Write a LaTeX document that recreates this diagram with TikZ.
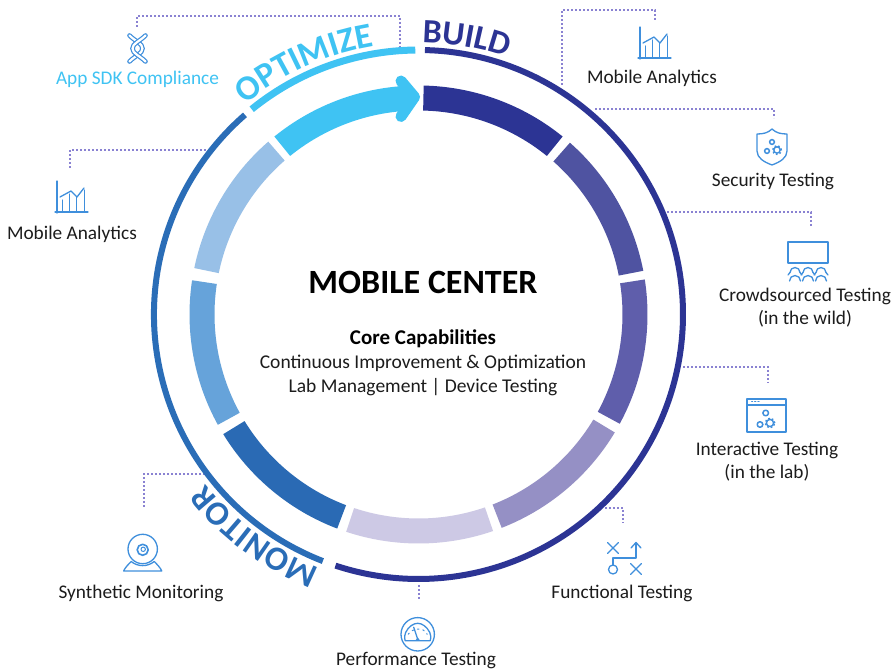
\documentclass[tikz,border=0pt]{standalone}
\usepackage{fontspec}
\setmainfont{Carlito}
\usetikzlibrary{decorations.text}
\definecolor{navyc}{HTML}{2C3494}
\definecolor{blueo}{HTML}{2A6DB7}
\definecolor{cyanc}{HTML}{3FC3F3}
\definecolor{segb}{HTML}{4F53A1}
\definecolor{segc}{HTML}{5F5EAB}
\definecolor{segd}{HTML}{9590C5}
\definecolor{sege}{HTML}{CDC9E5}
\definecolor{segf}{HTML}{2A6AB4}
\definecolor{segg}{HTML}{66A3DA}
\definecolor{segh}{HTML}{98C0E7}
\definecolor{iconc}{HTML}{3F8FDC}
\definecolor{dotc}{HTML}{8A82D2}
\definecolor{inkc}{HTML}{1C1C1C}
\tikzset{
  lab/.style={font=\fontsize{19.3}{23}\selectfont,text=inkc,align=center,inner sep=0pt},
  leader/.style={draw=dotc,line width=1.2pt,dash pattern=on 2pt off 2pt},
  ico/.style={draw=iconc,line width=1.3pt,line cap=round,line join=round},
  ringarc/.style={line width=6pt},
}
\newcommand{\seg}[3]{\fill[#1] (#2:229) arc[start angle=#2,end angle=#3,radius=229] -- (#3:204) arc[start angle=#3,end angle=#2,radius=204] -- cycle;}
\newcommand{\curvetxt}[4]{\path[decorate,decoration={text along path,text={|\bfseries\fontsize{#4}{#4}\selectfont\color{#1}|#2}}] (#3:272) arc[start angle=#3,end angle=#3-60,radius=272];}
\newcommand{\chartico}[2]{\begin{scope}[shift={(#1,#2)}]
  \draw[ico] (0,-1) -- (0,31);
  \draw[ico] (-2,0) -- (31,0);
  \draw[ico,line width=1pt] (5,12) -- (5,0) (12,18) -- (12,0) (19,15) -- (19,0) (27,22) -- (27,0);
  \draw[ico] (3,15) -- (14,21) -- (20,15) -- (27,24);
\end{scope}}
\newcommand{\gearico}[3]{\draw[ico,line width=1.5pt] (#1,#2) circle[radius=#3];}
\newcommand{\bigear}[3]{\draw[ico,line width=1.4pt] (#1,#2) circle[radius=#3];
  \draw[iconc,line width=1.4pt,line cap=butt,dash pattern=on 1.7pt off 2.1pt] (#1,#2) circle[radius=#3+1.2];}
\begin{document}
\begin{tikzpicture}[x=1pt,y=1pt]
\useasboundingbox (0,0) rectangle (892,669);
\fill[white] (0,0) rectangle (892,669);
% --- leaders
\coordinate (a1) at (137,642); \coordinate (a2) at (137,653); \coordinate (a3) at (400,653); \coordinate (a4) at (400,622);
\draw[leader] (a1) -- (a2) -- (a3) -- (a4);
\coordinate (b1) at (70,501); \coordinate (b2) at (70,519); \coordinate (b3) at (213,519);
\draw[leader] (b1) -- (b2) -- (b3);
\coordinate (c1) at (562,584); \coordinate (c2) at (562,659); \coordinate (c3) at (655,659); \coordinate (c4) at (655,648);
\draw[leader] (c1) -- (c2) -- (c3) -- (c4);
\coordinate (d1) at (595,560); \coordinate (d2) at (774,560); \coordinate (d3) at (774,551);
\draw[leader] (d1) -- (d2) -- (d3);
\coordinate (e1) at (667,457); \coordinate (e2) at (811,457); \coordinate (e3) at (811,443);
\draw[leader] (e1) -- (e2) -- (e3);
\coordinate (f1) at (683,302); \coordinate (f2) at (768,302); \coordinate (f3) at (768,286);
\draw[leader] (f1) -- (f2) -- (f3);
\coordinate (g1) at (605,161); \coordinate (g2) at (623,161); \coordinate (g3) at (623,146);
\draw[leader] (g1) -- (g2) -- (g3);
\coordinate (h1) at (419,84); \coordinate (h2) at (419,69);
\draw[leader] (h1) -- (h2);
\coordinate (i1) at (205,195); \coordinate (i2) at (144,195); \coordinate (i3) at (144,161);
\draw[leader] (i1) -- (i2) -- (i3);
% --- rings
\begin{scope}[shift={(418.5,354.5)}]
  \draw[navyc,ringarc] (88.6:264.5) arc[start angle=88.6,end angle=-108.3,radius=264.5];
  \draw[blueo,ringarc] (248.8:264.5) arc[start angle=248.8,end angle=131,radius=264.5];
  \draw[cyanc,ringarc,line width=7pt] (129.1:264.5) arc[start angle=129.1,end angle=90.7,radius=264.5];
  \seg{navyc}{88.7}{51}
  \seg{segb}{48.6}{11}
  \seg{segc}{8.8}{-28.5}
  \seg{segd}{-31}{-68.7}
  \seg{sege}{-71}{-108.4}
  \seg{segf}{-110.8}{-148.5}
  \seg{segg}{-151.2}{-188.6}
  \seg{segh}{168.3}{131}
  % arrow
  \fill[cyanc] (129:229) arc[start angle=129,end angle=93,radius=229] -- (-4,217.5) -- (93:204) arc[start angle=93,end angle=129,radius=204] -- cycle;
  \draw[cyanc,line width=11pt,line cap=round,line join=round] (-17.5,233.5) -- (-4,217.5) -- (-17.5,198);
  \curvetxt{cyanc}{OPTIMIZE}{129.4}{35}
  \curvetxt{navyc}{BUILD}{89.2}{34}
  \curvetxt{blueo}{MONITOR}{248.6}{34}
\end{scope}
% --- centre
\node[lab,font=\bfseries\fontsize{34}{36}\selectfont,text=black] (title) at (423,386.5) {MOBILE CENTER};
\node[lab,font=\bfseries\fontsize{21}{24}\selectfont,text=black] (core) at (423,330.5) {Core Capabilities};
\node[lab,font=\fontsize{19.5}{24}\selectfont] (cont) at (423,305.5) {Continuous Improvement \& Optimization};
\node[lab,font=\fontsize{19.5}{24}\selectfont] (labm) at (423,281.5) {Lab Management | Device Testing};
% --- labels
\node[lab,text=cyanc] (sdk) at (137.5,590) {App SDK Compliance};
\node[lab] (mal) at (72,434.5) {Mobile Analytics};
\node[lab] (mar) at (652,590.5) {Mobile Analytics};
\node[lab] (sec) at (773,487.5) {Security Testing};
\node[lab] (crowd) at (805,361.5) {Crowdsourced Testing\\(in the wild)};
\node[lab] (inter) at (767,207.5) {Interactive Testing\\(in the lab)};
\node[lab] (func) at (622,75.5) {Functional Testing};
\node[lab] (perf) at (416,8.5) {Performance Testing};
\node[lab] (syn) at (141,75.5) {Synthetic Monitoring};
% --- icons
% knot
\begin{scope}[shift={(137.5,620.5)}]
  \foreach \cc/\ww in {iconc/4.6pt,white/2.2pt}
    \draw[\cc,line width=\ww,line cap=round] (-8,13) .. controls (-2,7) and (5,5) .. (5,0) .. controls (5,-5) and (-2,-7) .. (-8,-13);
  \foreach \cc/\ww in {iconc/4.6pt,white/2.2pt}
    \draw[\cc,line width=\ww,line cap=round] (8,13) .. controls (2,7) and (-5,5) .. (-5,0) .. controls (-5,-5) and (2,-7) .. (8,-13);
\end{scope}
\chartico{57}{457}
\chartico{640}{611}
% shield
\begin{scope}[shift={(772,522)}]
  \draw[ico] (0,18) .. controls (4,14) and (9,13) .. (15,13) -- (15,-4) .. controls (15,-11) and (8,-15) .. (0,-18) .. controls (-8,-15) and (-15,-11) .. (-15,-4) -- (-15,13) .. controls (-9,13) and (-4,14) .. (0,18) -- cycle;
  \gearico{0}{5}{2.4}
  \gearico{-5}{-4}{2.4}
  \bigear{5}{-3}{3.2}
\end{scope}
% crowd
\begin{scope}[shift={(808,410)}]
  \draw[ico] (-20,-4) rectangle (20,17);
  \foreach \xx in {-13,0,13}{
    \draw[ico] (\xx-5,-13.5) arc[start angle=180,end angle=0,radius=5];
    \draw[ico] (\xx-5,-13.5) -- (\xx-7,-16) (\xx+5,-13.5) -- (\xx+7,-16);
    \draw[ico] (\xx-5.5,-22) arc[start angle=180,end angle=0,radius=5.5];
  }
\end{scope}
% window
\begin{scope}[shift={(766.5,253.5)}]
  \draw[ico] (-19.5,-16.5) rectangle (19.5,16.5);
  \draw[ico] (-19.5,10.5) -- (19.5,10.5);
  \draw[ico,line width=1pt,dash pattern=on 1.2pt off 2pt] (-15,13.5) -- (-6,13.5);
  \gearico{-0.8}{2.5}{2.8}
  \gearico{-6.5}{-9}{2.8}
  \bigear{3.5}{-7.5}{3.6}
\end{scope}
% plays
\begin{scope}[shift={(624.5,111)}]
  \draw[ico] (-17,15.5) -- (-6,4.5) (-17,4.5) -- (-6,15.5);
  \draw[ico] (6,-16.5) -- (17,-5.5) (6,-5.5) -- (17,-16.5);
  \draw[ico] (-11.5,-7) -- (-11.5,0) -- (11.5,0) -- (11.5,15);
  \draw[ico] (6.5,10) -- (11.5,15.5) -- (16.5,10);
  \draw[ico] (-11.5,-11.5) circle[radius=4.5];
\end{scope}
% gauge
\begin{scope}[shift={(417.7,34.7)}]
  \draw[ico] (0,0) circle[radius=16.7];
  \draw[ico] (-12.5,-6.5) -- (12.5,-6.5) (-12.5,-6.5) .. controls (-13.5,-3) and (-13,0) .. (-12,2) .. controls (-9,8) and (-4,11) .. (0,11) .. controls (4,11) and (9,8) .. (12,2) .. controls (13,0) and (13.5,-3) .. (12.5,-6.5);
  \draw[ico] (0,-5) -- (-4,7);
  \fill[iconc] (-2.5,-6.5) -- (0,-3) -- (2.5,-6.5) -- cycle;
  \draw[ico,line width=1pt,dash pattern=on 1.5pt off 4pt] (-9.5,0) .. controls (-6,6) and (6,8) .. (9.5,0);
\end{scope}
% webcam
\begin{scope}[shift={(142.7,120)}]
  \draw[ico] (0,0) circle[radius=14.7];
  \draw[ico,line width=1.6pt] (0,-0.8) circle[radius=5.5];
  \draw[ico,line width=1pt] (0.5,-0.3) circle[radius=2.2];
  \draw[ico] (-11.5,-12.5) .. controls (-5,-18) and (5,-18) .. (11.5,-12.5) .. controls (14,-15) and (18,-19) .. (19,-22) -- (-19,-22) .. controls (-18,-19) and (-14,-15) .. (-11.5,-12.5) -- cycle;
\end{scope}
\end{tikzpicture}
\end{document}
